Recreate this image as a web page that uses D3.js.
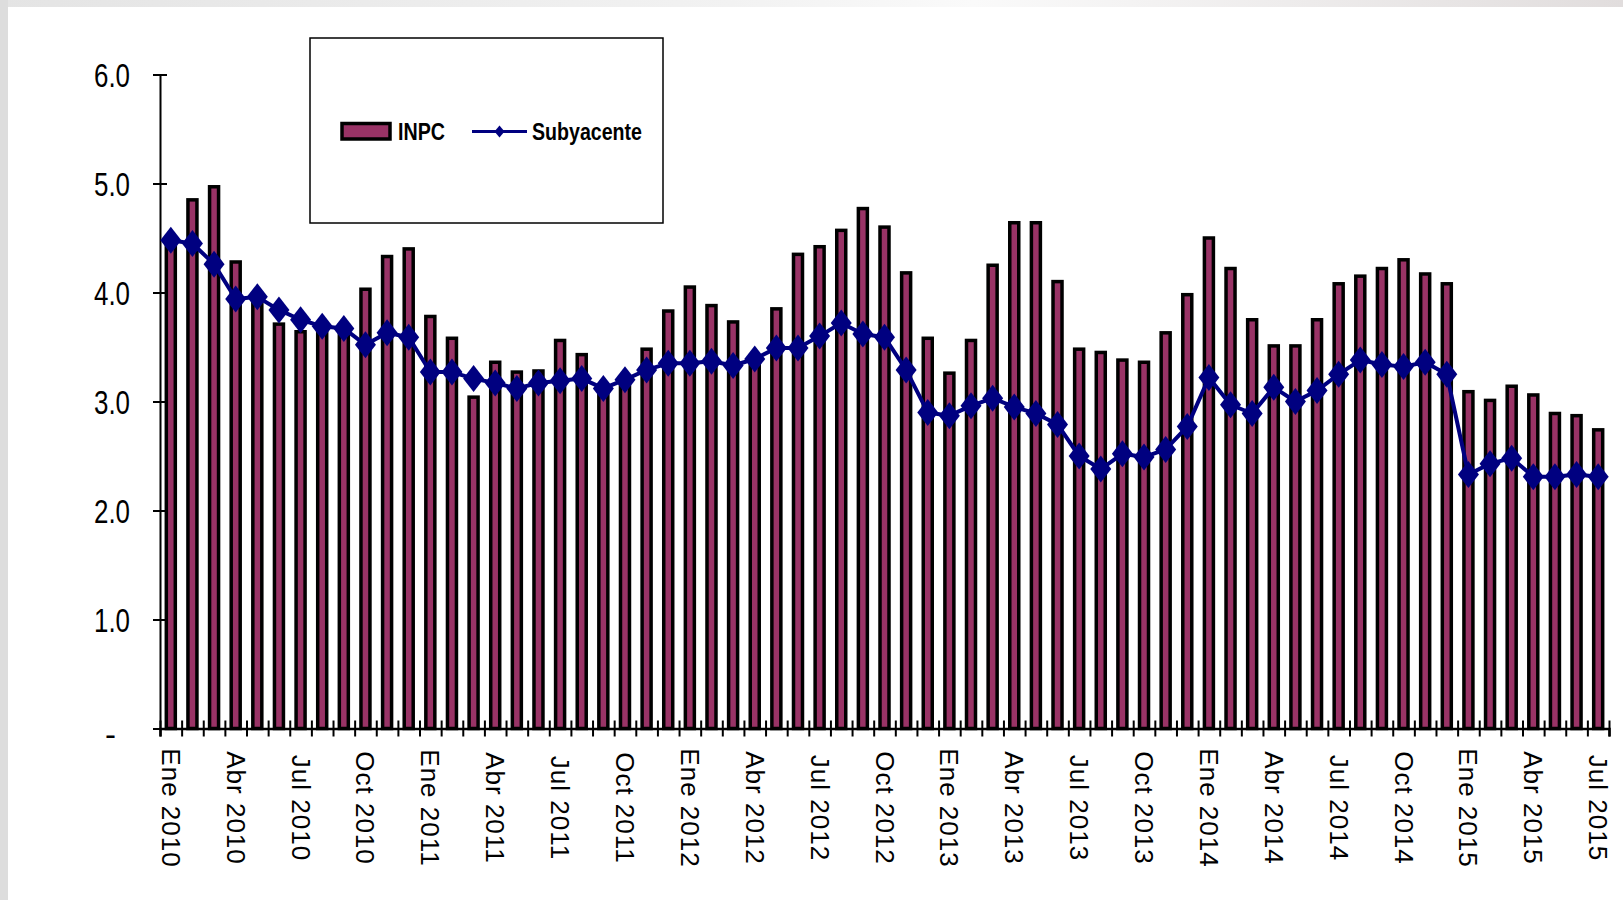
<!DOCTYPE html>
<html>
<head>
<meta charset="utf-8">
<script src="https://cdn.jsdelivr.net/npm/d3@7"></script>
<style>
  html, body { margin: 0; padding: 0; background: #fff; }
  svg { display: block; }
</style>
</head>
<body>
<svg id="chart" width="1623" height="900"></svg>
<script>
// Monthly annual inflation, January 2010 – July 2015
const monthNames = ["Ene","Feb","Mar","Abr","May","Jun","Jul","Ago","Sep","Oct","Nov","Dic"];
const years = [2010, 2011, 2012, 2013, 2014, 2015];

const inpc = [
  4.46, 4.85, 4.97, 4.28, 3.92, 3.71, 3.64, 3.68, 3.70, 4.03, 4.33, 4.40,
  3.78, 3.58, 3.04, 3.36, 3.27, 3.28, 3.56, 3.43, 3.14, 3.20, 3.48, 3.83,
  4.05, 3.88, 3.73, 3.41, 3.85, 4.35, 4.42, 4.57, 4.77, 4.60, 4.18, 3.58,
  3.26, 3.56, 4.25, 4.64, 4.64, 4.10, 3.48, 3.45, 3.38, 3.36, 3.63, 3.98,
  4.50, 4.22, 3.75, 3.51, 3.51, 3.75, 4.08, 4.15, 4.22, 4.30, 4.17, 4.08,
  3.09, 3.01, 3.14, 3.06, 2.89, 2.87, 2.74
];

const subyacente = [
  4.48, 4.45, 4.26, 3.94, 3.96, 3.84, 3.75, 3.69, 3.67, 3.52, 3.63, 3.59,
  3.27, 3.27, 3.21, 3.17, 3.12, 3.17, 3.19, 3.21, 3.12, 3.20, 3.29, 3.35,
  3.35, 3.37, 3.33, 3.39, 3.49, 3.49, 3.60, 3.72, 3.62, 3.59, 3.29, 2.90,
  2.87, 2.96, 3.03, 2.95, 2.89, 2.79, 2.50, 2.38, 2.52, 2.49, 2.56, 2.77,
  3.22, 2.97, 2.89, 3.13, 3.00, 3.10, 3.25, 3.38, 3.34, 3.32, 3.36, 3.25,
  2.33, 2.43, 2.48, 2.31, 2.31, 2.33, 2.31
];

const yTicks = [0, 1, 2, 3, 4, 5, 6];

// Month labels "Ene 2010" … ; every third month is printed on the axis
const months = inpc.map((_, i) => monthNames[i % 12] + " " + years[Math.floor(i / 12)]);
const shownMonths = months.filter((_, i) => i % 3 === 0);

const BAR_FILL = "#993366";
const LINE_COLOR = "#000080";
const NARROW = "'Liberation Sans Narrow', 'Arial Narrow', 'Liberation Sans', Arial, sans-serif";

const svg = d3.select("#chart");

// Page frame: light grey strips along the top and left edges
const defs = svg.append("defs");
const grad = defs.append("linearGradient").attr("id", "topStrip").attr("x1", 0).attr("x2", 1);
grad.append("stop").attr("offset", "0%").attr("stop-color", "#e4e4e4");
grad.append("stop").attr("offset", "45%").attr("stop-color", "#f2f2f2");
grad.append("stop").attr("offset", "60%").attr("stop-color", "#fafafa");
grad.append("stop").attr("offset", "100%").attr("stop-color", "#e1dddd");
svg.append("rect").attr("x", 0).attr("y", 0).attr("width", 1623).attr("height", 7).attr("fill", "url(#topStrip)");
svg.append("rect").attr("x", 0).attr("y", 0).attr("width", 8).attr("height", 900).attr("fill", "#dddddd");

const plotLeft = 160, plotRight = 1609, plotTop = 74.5, plotBottom = 728.5;

const x = d3.scaleBand()
  .domain(months)
  .range([plotLeft, plotRight])
  .paddingInner(0)
  .paddingOuter(0);

const xEdges = d3.scaleLinear().domain([0, months.length]).range([plotLeft, plotRight]);

const y = d3.scaleLinear().domain([0, 6]).range([plotBottom, plotTop]);

const cx = m => x(m) + x.bandwidth() / 2;

// Bars (INPC)
const barW = 9;
svg.append("g")
  .selectAll("rect")
  .data(inpc)
  .join("rect")
  .attr("x", (d, i) => cx(months[i]) - barW / 2)
  .attr("y", d => y(d))
  .attr("width", barW)
  .attr("height", d => y(0) - y(d))
  .attr("fill", BAR_FILL)
  .attr("stroke", "#000")
  .attr("stroke-width", 3.5);

// Y axis
const yAxis = svg.append("g")
  .attr("transform", `translate(${plotLeft},0)`)
  .call(d3.axisLeft(y)
    .tickValues(yTicks)
    .tickSize(7)
    .tickPadding(0)
    .tickFormat(d => d === 0 ? "-" : d.toFixed(1)));
yAxis.select(".domain").attr("stroke", "#000").attr("stroke-width", 2);
yAxis.selectAll(".tick line").attr("x1", 7).attr("stroke", "#000").attr("stroke-width", 2);
yAxis.selectAll(".tick text")
  .attr("x", d => d === 0 ? -44 : -30)
  .attr("dy", d => d === 0 ? "0.5em" : "0.36em")
  .attr("font-family", NARROW)
  .attr("font-size", 33)
  .attr("fill", "#000")
  .attr("textLength", d => d === 0 ? null : 36)
  .attr("lengthAdjust", "spacingAndGlyphs");

// X axis: a tick at every month boundary
const xAxis = svg.append("g")
  .attr("transform", `translate(0,${plotBottom})`)
  .call(d3.axisBottom(xEdges)
    .tickValues(d3.range(months.length + 1))
    .tickSize(8)
    .tickFormat(""));
xAxis.select(".domain").attr("stroke", "#000").attr("stroke-width", 2.5);
xAxis.selectAll(".tick line").attr("y1", -8).attr("stroke", "#000").attr("stroke-width", 2);

// Month labels, rotated to read top to bottom
svg.append("g")
  .selectAll("text")
  .data(shownMonths)
  .join("text")
  .attr("transform", d => `translate(${cx(d)},808) rotate(90)`)
  .attr("text-anchor", "middle")
  .attr("dominant-baseline", "central")
  .attr("font-family", "'Liberation Sans', Arial, sans-serif")
  .attr("font-size", 26)
  .attr("letter-spacing", 1)
  .attr("fill", "#000")
  .text(d => d);

// Core inflation line with diamond markers
const line = d3.line()
  .x((d, i) => cx(months[i]))
  .y(d => y(d));

svg.append("path")
  .datum(subyacente)
  .attr("d", line)
  .attr("fill", "none")
  .attr("stroke", LINE_COLOR)
  .attr("stroke-width", 4)
  .attr("stroke-linejoin", "round");

svg.append("g")
  .selectAll("path")
  .data(subyacente)
  .join("path")
  .attr("transform", (d, i) => `translate(${cx(months[i])},${y(d)})`)
  .attr("d", "M0,-13.5L10.5,0L0,13.5L-10.5,0Z")
  .attr("fill", LINE_COLOR);

// Legend
const lg = svg.append("g");
lg.append("rect")
  .attr("x", 310).attr("y", 38).attr("width", 353).attr("height", 185)
  .attr("fill", "#fff").attr("stroke", "#000").attr("stroke-width", 1.5);
lg.append("rect")
  .attr("x", 342).attr("y", 123.5).attr("width", 48).attr("height", 15.5)
  .attr("fill", BAR_FILL).attr("stroke", "#000").attr("stroke-width", 3.5);
lg.append("text")
  .attr("x", 398).attr("y", 140)
  .attr("font-family", NARROW)
  .attr("font-weight", "bold").attr("font-size", 24)
  .attr("textLength", 47).attr("lengthAdjust", "spacingAndGlyphs")
  .text("INPC");
lg.append("line")
  .attr("x1", 472).attr("x2", 527).attr("y1", 131.5).attr("y2", 131.5)
  .attr("stroke", LINE_COLOR).attr("stroke-width", 3);
lg.append("path")
  .attr("transform", "translate(499.5,131.5)")
  .attr("d", "M0,-6L5,0L0,6L-5,0Z")
  .attr("fill", LINE_COLOR);
lg.append("text")
  .attr("x", 532).attr("y", 140)
  .attr("font-family", NARROW)
  .attr("font-weight", "bold").attr("font-size", 24)
  .attr("textLength", 110).attr("lengthAdjust", "spacingAndGlyphs")
  .text("Subyacente");
</script>
</body>
</html>
